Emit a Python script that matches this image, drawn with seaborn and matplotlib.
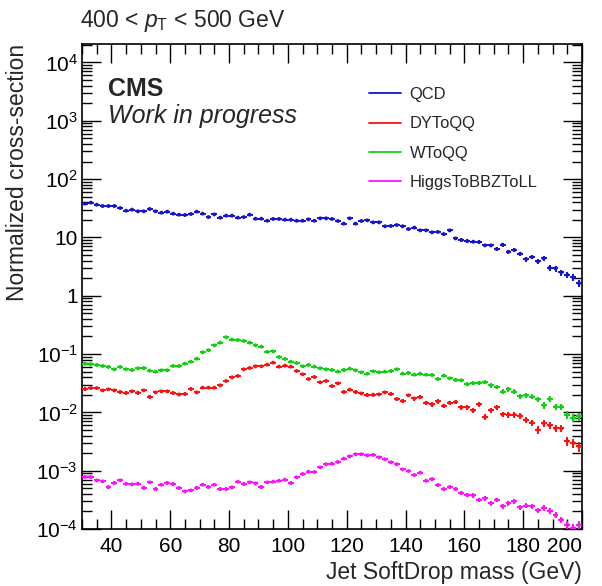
import numpy as np
import pandas as pd
import matplotlib
matplotlib.use("Agg")
import matplotlib.pyplot as plt
import seaborn as sns
from matplotlib.lines import Line2D
from matplotlib.ticker import FixedLocator, MultipleLocator, FuncFormatter, NullFormatter

# binning: 85 bins of 2 GeV from 30 to 200
bin_lo = 30
bin_hi = 200
bin_w = 2

qcd = [37.9, 39.4, 36.4, 34.5, 34.5, 34.5, 31.9, 28.7, 29.9, 28.0,
       28.0, 30.7, 28.0, 26.5, 27.6, 25.5, 24.5, 24.2, 25.2, 27.6,
       25.5, 22.3, 24.8, 21.8, 23.6, 23.6, 21.8, 22.3, 24.5, 20.9,
       20.9, 19.3, 20.7, 20.7, 20.1, 20.1, 19.3, 19.3, 20.4, 19.3,
       21.2, 21.2, 20.7, 19.1, 17.2, 21.2, 17.2, 19.1, 19.6, 18.1,
       18.1, 15.5, 15.7, 16.3, 15.5, 13.9, 14.7, 13.2, 13.2, 12.2,
       12.4, 11.4, 13.2, 9.6, 9.0, 8.65, 8.43, 8.31, 7.29, 7.29,
       6.31, 7.48, 5.67, 6.06, 5.24, 4.25, 4.59, 3.87, 4.36, 3.01,
       2.93, 2.51, 2.28, 2.06, 1.64]

dytoqq = [0.0251, 0.0261, 0.0261, 0.0238, 0.0248, 0.0238, 0.0223, 0.0217, 0.0229, 0.0217,
          0.0238, 0.0185, 0.0220, 0.0229, 0.0229, 0.0214, 0.0203, 0.0206, 0.0251, 0.0220,
          0.0265, 0.0265, 0.0265, 0.0290, 0.0345, 0.0398, 0.0420, 0.0547, 0.0576, 0.0616,
          0.0616, 0.0658, 0.0712, 0.0608, 0.0632, 0.0608, 0.0512, 0.0449, 0.0373, 0.0404,
          0.0327, 0.0345, 0.0282, 0.0314, 0.0223, 0.0245, 0.0223, 0.0211, 0.0198, 0.0201,
          0.0203, 0.0220, 0.0206, 0.0169, 0.0156, 0.0196, 0.0173, 0.0181, 0.0146, 0.0137,
          0.0154, 0.0130, 0.0146, 0.0150, 0.0122, 0.0122, 0.0108, 0.0137, 0.0083, 0.0109,
          0.0122, 0.0092, 0.0091, 0.0091, 0.0087, 0.0074, 0.0067, 0.0050, 0.0065, 0.0060,
          0.0053, 0.0053, 0.0032, 0.0030, 0.0026]

wtoqq = [0.0684, 0.0667, 0.0649, 0.0624, 0.0600, 0.0547, 0.0600, 0.0547, 0.0533, 0.0569,
         0.0576, 0.0519, 0.0499, 0.0526, 0.0526, 0.0624, 0.0624, 0.0684, 0.0740, 0.0833,
         0.107, 0.116, 0.141, 0.157, 0.194, 0.177, 0.174, 0.168, 0.157, 0.141,
         0.134, 0.109, 0.111, 0.0891, 0.0823, 0.0740, 0.0703, 0.0616, 0.0649, 0.0608,
         0.0569, 0.0547, 0.0533, 0.0499, 0.0533, 0.0561, 0.0526, 0.0485, 0.0460, 0.0505,
         0.0485, 0.0499, 0.0512, 0.0547, 0.0460, 0.0473, 0.0443, 0.0460, 0.0443, 0.0437,
         0.0373, 0.0426, 0.0383, 0.0358, 0.0354, 0.0302, 0.0314, 0.0323, 0.0327, 0.0290,
         0.0272, 0.0226, 0.0248, 0.0226, 0.0188, 0.0196, 0.0185, 0.0167, 0.0132, 0.0169,
         0.0125, 0.0125, 0.0091, 0.0081, 0.0085]

higgs = [7.78e-4, 7.78e-4, 6.82e-4, 6.56e-4, 5.24e-4, 6.14e-4, 6.82e-4, 5.98e-4, 5.82e-4, 5.98e-4,
         5.10e-4, 6.31e-4, 4.84e-4, 5.74e-4, 6.14e-4, 5.90e-4, 5.04e-4, 4.41e-4, 4.59e-4, 5.10e-4,
         5.74e-4, 5.24e-4, 5.74e-4, 4.84e-4, 4.84e-4, 5.17e-4, 6.47e-4, 5.90e-4, 6.31e-4, 6.05e-4,
         5.24e-4, 6.31e-4, 6.47e-4, 6.73e-4, 7.00e-4, 6.14e-4, 7.68e-4, 8.77e-4, 9.61e-4, 9.49e-4,
         1.14e-3, 1.29e-3, 1.32e-3, 1.41e-3, 1.61e-3, 1.76e-3, 1.91e-3, 1.91e-3, 1.83e-3, 1.86e-3,
         1.69e-3, 1.57e-3, 1.39e-3, 1.29e-3, 1.05e-3, 9.87e-4, 8.43e-4, 9.24e-4, 6.73e-4, 7.19e-4,
         5.67e-4, 4.84e-4, 5.24e-4, 4.84e-4, 4.13e-4, 3.82e-4, 3.77e-4, 3.18e-4, 3.35e-4, 2.78e-4,
         3.18e-4, 2.47e-4, 2.78e-4, 2.97e-4, 2.34e-4, 2.51e-4, 2.44e-4, 2.08e-4, 2.31e-4, 2.05e-4,
         1.73e-4, 1.44e-4, 1.18e-4, 1.05e-4, 1.18e-4]

labels = ["QCD", "DYToQQ", "WToQQ", "HiggsToBBZToLL"]
colors = ["#1414d2", "#ff1010", "#10d010", "#ff10ff"]
# effective MC statistics per unit of normalized cross-section (sets the Poisson error bars)
eff_scale = [27, 9600, 5200, 4.0e5]

series = [qcd, dytoqq, wtoqq, higgs]
centers = np.arange(bin_lo + bin_w / 2, bin_hi, bin_w)

frames = []
for lab, vals, sc in zip(labels, series, eff_scale):
    v = np.array(vals)
    frames.append(pd.DataFrame({"mass": centers, "xsec": v,
                                "err": np.sqrt(v * sc) / sc, "sample": lab}))
df = pd.concat(frames, ignore_index=True)

sns.set_style("ticks")
plt.rcParams["font.family"] = ["Liberation Sans", "DejaVu Sans"]
plt.rcParams["mathtext.fontset"] = "custom"
plt.rcParams["mathtext.rm"] = "Liberation Sans"
plt.rcParams["mathtext.it"] = "Liberation Sans:italic"
plt.rcParams["mathtext.bf"] = "Liberation Sans:bold"

fig = plt.figure(figsize=(6.02, 5.86), dpi=100)
ax = fig.add_axes([82 / 602, 1 - 529 / 586, 500 / 602, 485 / 586])

for lab, col in zip(labels, colors):
    d = df[df["sample"] == lab]
    ax.errorbar(d["mass"], d["xsec"], xerr=bin_w / 2, yerr=d["err"], fmt="none",
                ecolor=col, elinewidth=1.4, capsize=0, zorder=3)

sns.scatterplot(data=df, x="mass", y="xsec", hue="sample", palette=dict(zip(labels, colors)),
                s=8, marker="o", edgecolor="none", legend=False, ax=ax, zorder=4)

ax.set_yscale("log")
ax.set_xlim(bin_lo, bin_hi)
ax.set_ylim(1e-4, 2.07e4)

ax.xaxis.set_major_locator(MultipleLocator(20))
ax.xaxis.set_minor_locator(MultipleLocator(5))
decades = [10.0 ** e for e in range(-4, 5)]
minors = [m * d for d in decades[:-1] for m in range(2, 10)] + [2e4]
ax.yaxis.set_major_locator(FixedLocator(decades))
ax.yaxis.set_minor_locator(FixedLocator(minors))
ax.yaxis.set_minor_formatter(NullFormatter())


def log_label(val, pos):
    e = int(round(np.log10(val)))
    if e == 0:
        return "1"
    if e == 1:
        return "10"
    return r"$10^{%d}$" % e


ax.yaxis.set_major_formatter(FuncFormatter(log_label))

ax.tick_params(which="both", direction="in", top=True, right=True, colors="black",
               labelsize=15, width=1.0)
ax.tick_params(which="major", length=14)
ax.tick_params(which="minor", length=7)
ax.tick_params(axis="x", pad=6)
ax.tick_params(axis="y", pad=3)
for sp in ax.spines.values():
    sp.set_linewidth(1.2)
    sp.set_color("black")

# ROOT pulls the last x label inward so it stays inside the pad
fig.canvas.draw()
for t in ax.get_xticklabels():
    if t.get_text() == "200":
        t.set_ha("right")

ax.set_xlabel("Jet SoftDrop mass (GeV)", fontsize=16.5, loc="right")
ax.xaxis.set_label_coords(1.0, -0.066)
ax.set_ylabel("Normalized cross-section", fontsize=16.5, loc="top")
ax.yaxis.set_label_coords(-0.106, 1.0)

fig.text(80 / 602, 1 - 27 / 586, r"400 < $p_{\mathrm{T}}$ < 500 GeV", fontsize=16.5,
         ha="left", va="baseline")
ax.text(0.052, 0.893, "CMS", transform=ax.transAxes, fontsize=18, fontweight="bold",
        ha="left", va="baseline")
ax.text(0.052, 0.838, "Work in progress", transform=ax.transAxes, fontsize=18,
        fontstyle="italic", ha="left", va="baseline")

handles = [Line2D([0], [0], color=c, lw=1.3) for c in colors]
ax.legend(handles, labels, loc="upper left", bbox_to_anchor=(0.574, 0.911), frameon=False,
          fontsize=11.9, handlelength=1.95, handletextpad=0.5, labelspacing=0.86,
          borderpad=0, borderaxespad=0)

fig.savefig("out.png", dpi=100)
